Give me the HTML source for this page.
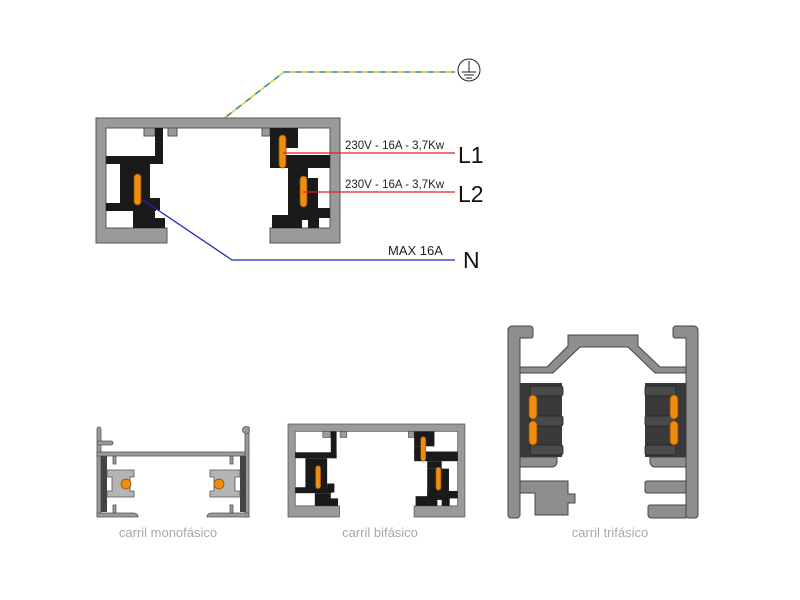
<!DOCTYPE html>
<html><head><meta charset="utf-8"><style>
html,body{margin:0;padding:0;background:#fff}
svg{display:block}
text{font-family:"Liberation Sans",sans-serif}
</style></head><body>
<svg width="800" height="600" viewBox="0 0 800 600" xmlns="http://www.w3.org/2000/svg">
<defs>
<g id="rail">
  <path d="M96,118H340V243H270V228H330V128H106V228H167V243H96Z" fill="#9a9a9a" stroke="#555" stroke-width="1"/>
  <rect x="144" y="128" width="11" height="8" fill="#9a9a9a" stroke="#555" stroke-width="1"/>
  <rect x="168" y="128" width="9" height="8" fill="#9a9a9a" stroke="#555" stroke-width="1"/>
  <rect x="262" y="128" width="8" height="8" fill="#9a9a9a" stroke="#555" stroke-width="1"/>
  <g fill="#1a1a1a">
    <rect x="155" y="128" width="8" height="36"/>
    <rect x="106" y="156" width="57" height="8"/>
    <rect x="120" y="164" width="30" height="46"/>
    <rect x="150" y="198" width="10" height="12"/>
    <rect x="106" y="203" width="50" height="8"/>
    <rect x="133" y="211" width="22" height="17"/>
    <rect x="150" y="218" width="15" height="10"/>
    <rect x="270" y="128" width="28" height="20"/>
    <rect x="270" y="148" width="15" height="10"/>
    <rect x="270" y="155" width="60" height="13"/>
    <rect x="288" y="168" width="20" height="10"/>
    <rect x="288" y="178" width="30" height="42"/>
    <rect x="288" y="208" width="42" height="10"/>
    <rect x="272" y="215" width="30" height="13"/>
    <rect x="308" y="215" width="11" height="13"/>
  </g>
  <rect x="134" y="174" width="7" height="31" rx="3.5" fill="#f08c10" stroke="#8a4a00" stroke-width="0.8"/>
  <rect x="279" y="135" width="7" height="33" rx="3.5" fill="#f08c10" stroke="#8a4a00" stroke-width="0.8"/>
  <rect x="300" y="176" width="7" height="31" rx="3.5" fill="#f08c10" stroke="#8a4a00" stroke-width="0.8"/>
</g>
</defs>

<path d="M222,120L284,72H455" fill="none" stroke="#3a8a8a" stroke-width="1.6"/>
<path d="M222,120L284,72H455" fill="none" stroke="#e8d840" stroke-width="1.6" stroke-dasharray="6,6"/>
<circle cx="469" cy="70" r="11" fill="none" stroke="#222" stroke-width="1"/>
<path d="M469,61V72M462,72H476M464,75H474M466,78H472" stroke="#222" stroke-width="1"/>

<use href="#rail"/>

<path d="M283,153H455" stroke="#e02020" stroke-width="1.3"/>
<path d="M303,192H455" stroke="#e02020" stroke-width="1.3"/>
<path d="M143,200L232,260H455" fill="none" stroke="#1c28c0" stroke-width="1.3"/>
<text x="345" y="149" font-size="11.5" fill="#222">230V - 16A - 3,7Kw</text>
<text x="345" y="188" font-size="11.5" fill="#222">230V - 16A - 3,7Kw</text>
<text x="458" y="163" font-size="23" fill="#111">L1</text>
<text x="458" y="202" font-size="23" fill="#111">L2</text>
<text x="388" y="255" font-size="13" fill="#222">MAX 16A</text>
<text x="463" y="268" font-size="23" fill="#111">N</text>

<g transform="translate(288,424) scale(0.725,0.744) translate(-96,-118)"><use href="#rail"/></g>

<!-- monofasico -->
<g stroke="#555" stroke-width="0.8" fill="#9a9a9a">
  <rect x="97" y="427" width="4" height="90" rx="2"/>
  <rect x="97" y="441" width="16" height="4" rx="2"/>
  <rect x="97" y="452" width="152" height="4"/>
  <rect x="245" y="427" width="4" height="90"/>
  <circle cx="246" cy="430" r="3.5"/>
  <path d="M97,513H134a4,4 0 0 1 4,4v0H97Z"/>
  <path d="M249,513H211a4,4 0 0 0 -4,4H249Z"/>
  <rect x="113" y="456" width="3" height="8"/>
  <rect x="230" y="456" width="3" height="8"/>
  <rect x="113" y="505" width="3" height="8"/>
  <rect x="230" y="505" width="3" height="8"/>
</g>
<rect x="101" y="456" width="6" height="56" fill="#444"/>
<rect x="240" y="456" width="6" height="56" fill="#444"/>
<path d="M107,470H134V477H130V491H134V497H107V491H112V477H107Z" fill="#b5b5b5" stroke="#555" stroke-width="0.8"/>
<path d="M240,470H210V477H214V491H210V497H240V491H235V477H240Z" fill="#b5b5b5" stroke="#555" stroke-width="0.8"/>
<circle cx="126" cy="484" r="5" fill="#f08c10" stroke="#8a4a00" stroke-width="0.7"/>
<circle cx="219" cy="484" r="5" fill="#f08c10" stroke="#8a4a00" stroke-width="0.7"/>

<!-- trifasico -->
<g fill="#8e8e8e" stroke="#444" stroke-width="1">
  <path d="M508,330a4,4 0 0 1 4,-4H530a3,3 0 0 1 3,3V336a2,2 0 0 1 -2,2H520V515a3,3 0 0 1 -3,3H511a3,3 0 0 1 -3,-3Z"/>
  <path d="M698,330a4,4 0 0 0 -4,-4H676a3,3 0 0 0 -3,3V336a2,2 0 0 0 2,2H686V515a3,3 0 0 0 3,3H695a3,3 0 0 0 3,-3Z"/>
  <path d="M520,367H547L568,346V335H638V346L660,367H686V373H655L628,347H580L553,373H520Z"/>
  <path d="M520,457H557V462a5,5 0 0 1 -5,5H520Z"/>
  <path d="M686,457H650V462a5,5 0 0 0 5,5H686Z"/>
  <path d="M520,481H568V494H575V503H568V515H535V493H520Z"/>
  <path d="M686,481H647a2,2 0 0 0 -2,2V491a2,2 0 0 0 2,2H686Z"/>
  <path d="M686,505H650a2,2 0 0 0 -2,2V515a3,3 0 0 0 3,3H686Z"/>
</g>
<g fill="#8e8e8e">
  <rect x="509" y="339" width="10.5" height="178"/>
  <rect x="686.5" y="339" width="10.5" height="178"/>
</g>
<rect x="520" y="383" width="42" height="74" fill="#3a3a3a"/>
<rect x="645" y="383" width="41" height="74" fill="#3a3a3a"/>
<g fill="#4a4a4a" stroke="#222" stroke-width="0.8">
  <rect x="530" y="386" width="33" height="10" rx="2"/>
  <rect x="530" y="416" width="33" height="10" rx="2"/>
  <rect x="530" y="445" width="33" height="10" rx="2"/>
  <rect x="645" y="386" width="31" height="10" rx="2"/>
  <rect x="645" y="416" width="31" height="10" rx="2"/>
  <rect x="645" y="445" width="31" height="10" rx="2"/>
</g>
<g fill="#f08c10" stroke="#8a4a00" stroke-width="0.8">
  <rect x="529" y="395" width="8" height="24" rx="4"/>
  <rect x="529" y="421" width="8" height="24" rx="4"/>
  <rect x="670" y="395" width="8" height="24" rx="4"/>
  <rect x="670" y="421" width="8" height="24" rx="4"/>
</g>

<text x="168" y="537" font-size="13" fill="#a8a8a8" text-anchor="middle">carril monofásico</text>
<text x="380" y="537" font-size="13" fill="#a8a8a8" text-anchor="middle">carril bifásico</text>
<text x="610" y="537" font-size="13" fill="#a8a8a8" text-anchor="middle">carril trifásico</text>
</svg>
</body></html>
